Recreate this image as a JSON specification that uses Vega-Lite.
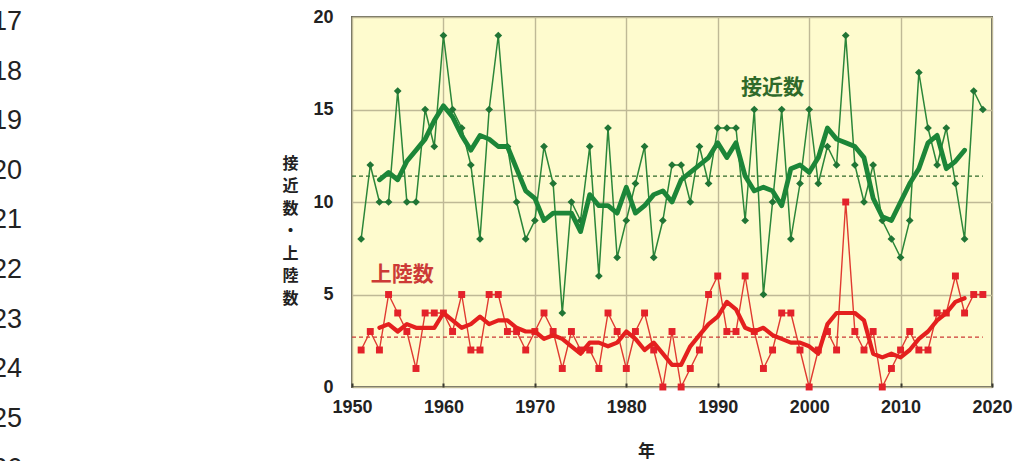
{
  "$schema": "https://vega.github.io/schema/vega-lite/v6.json",
  "width": 640,
  "height": 370,
  "autosize": {"type": "none"},
  "padding": {"left": 352, "top": 17, "right": 26, "bottom": 74},
  "background": "white",
  "config": {
    "view": {"fill": "#FEFBCE", "stroke": "#6B6B5C", "strokeWidth": 2},
    "axis": {
      "labelFont": "Liberation Sans",
      "labelFontWeight": "bold",
      "labelFontSize": 18,
      "labelColor": "#222222",
      "titleFont": "Noto Sans CJK JP",
      "titleFontWeight": "bold",
      "titleColor": "#222222",
      "gridColor": "#BFB996",
      "gridWidth": 1.4,
      "gridOpacity": 1,
      "domain": false
    }
  },
  "datasets": {
    "typhoons": [
      {"year": 1951, "approach": 8, "landing": 2},
      {"year": 1952, "approach": 12, "landing": 3},
      {"year": 1953, "approach": 10, "landing": 2},
      {"year": 1954, "approach": 10, "landing": 5},
      {"year": 1955, "approach": 16, "landing": 4},
      {"year": 1956, "approach": 10, "landing": 3},
      {"year": 1957, "approach": 10, "landing": 1},
      {"year": 1958, "approach": 15, "landing": 4},
      {"year": 1959, "approach": 13, "landing": 4},
      {"year": 1960, "approach": 19, "landing": 4},
      {"year": 1961, "approach": 15, "landing": 3},
      {"year": 1962, "approach": 14, "landing": 5},
      {"year": 1963, "approach": 12, "landing": 2},
      {"year": 1964, "approach": 8, "landing": 2},
      {"year": 1965, "approach": 15, "landing": 5},
      {"year": 1966, "approach": 19, "landing": 5},
      {"year": 1967, "approach": 13, "landing": 3},
      {"year": 1968, "approach": 10, "landing": 3},
      {"year": 1969, "approach": 8, "landing": 2},
      {"year": 1970, "approach": 9, "landing": 3},
      {"year": 1971, "approach": 13, "landing": 4},
      {"year": 1972, "approach": 11, "landing": 3},
      {"year": 1973, "approach": 4, "landing": 1},
      {"year": 1974, "approach": 10, "landing": 3},
      {"year": 1975, "approach": 9, "landing": 2},
      {"year": 1976, "approach": 13, "landing": 2},
      {"year": 1977, "approach": 6, "landing": 1},
      {"year": 1978, "approach": 14, "landing": 4},
      {"year": 1979, "approach": 7, "landing": 3},
      {"year": 1980, "approach": 9, "landing": 1},
      {"year": 1981, "approach": 11, "landing": 3},
      {"year": 1982, "approach": 13, "landing": 4},
      {"year": 1983, "approach": 7, "landing": 2},
      {"year": 1984, "approach": 9, "landing": 0},
      {"year": 1985, "approach": 12, "landing": 3},
      {"year": 1986, "approach": 12, "landing": 0},
      {"year": 1987, "approach": 10, "landing": 1},
      {"year": 1988, "approach": 13, "landing": 2},
      {"year": 1989, "approach": 11, "landing": 5},
      {"year": 1990, "approach": 14, "landing": 6},
      {"year": 1991, "approach": 14, "landing": 3},
      {"year": 1992, "approach": 14, "landing": 3},
      {"year": 1993, "approach": 9, "landing": 6},
      {"year": 1994, "approach": 15, "landing": 3},
      {"year": 1995, "approach": 5, "landing": 1},
      {"year": 1996, "approach": 10, "landing": 2},
      {"year": 1997, "approach": 15, "landing": 4},
      {"year": 1998, "approach": 8, "landing": 4},
      {"year": 1999, "approach": 11, "landing": 2},
      {"year": 2000, "approach": 15, "landing": 0},
      {"year": 2001, "approach": 11, "landing": 2},
      {"year": 2002, "approach": 13, "landing": 3},
      {"year": 2003, "approach": 12, "landing": 2},
      {"year": 2004, "approach": 19, "landing": 10},
      {"year": 2005, "approach": 12, "landing": 3},
      {"year": 2006, "approach": 10, "landing": 2},
      {"year": 2007, "approach": 12, "landing": 3},
      {"year": 2008, "approach": 9, "landing": 0},
      {"year": 2009, "approach": 8, "landing": 1},
      {"year": 2010, "approach": 7, "landing": 2},
      {"year": 2011, "approach": 9, "landing": 3},
      {"year": 2012, "approach": 17, "landing": 2},
      {"year": 2013, "approach": 14, "landing": 2},
      {"year": 2014, "approach": 12, "landing": 4},
      {"year": 2015, "approach": 14, "landing": 4},
      {"year": 2016, "approach": 11, "landing": 6},
      {"year": 2017, "approach": 8, "landing": 4},
      {"year": 2018, "approach": 16, "landing": 5},
      {"year": 2019, "approach": 15, "landing": 5}
    ],
    "normals": [
      {"series": "接近数", "mean": 11.4, "from": 1950, "to": 2019},
      {"series": "上陸数", "mean": 2.7, "from": 1950, "to": 2019}
    ],
    "tags": [
      {"series": "接近数", "year": 1996, "value": 16.15},
      {"series": "上陸数", "year": 1955.5, "value": 6.05}
    ],
    "gutter": [
      {"line": 17}, {"line": 18}, {"line": 19}, {"line": 20}, {"line": 21},
      {"line": 22}, {"line": 23}, {"line": 24}, {"line": 25}, {"line": 26}
    ]
  },
  "data": {"name": "typhoons"},
  "layer": [
    {
      "layer": [
        {
          "data": {"name": "normals"},
          "mark": {"type": "rule", "strokeWidth": 1.2, "strokeDash": [4, 3]},
          "encoding": {
            "x": {
              "field": "from",
              "type": "quantitative",
              "scale": {"domain": [1950, 2020], "nice": false, "zero": false},
              "axis": {
                "title": "年",
                "titleFontSize": 17,
                "titleX": 294,
                "titleY": 64,
                "titleBaseline": "middle",
                "titleAlign": "center",
                "values": [1950, 1960, 1970, 1980, 1990, 2000, 2010, 2020],
                "format": "d",
                "tickSize": -4,
                "tickWidth": 2,
                "tickColor": "#3A3A30",
                "labelPadding": 15,
                "labelFlush": false,
                "labelOverlap": false
              }
            },
            "x2": {"field": "to"},
            "y": {
              "field": "mean",
              "type": "quantitative",
              "scale": {"domain": [0, 20], "nice": false},
              "axis": {
                "title": ["接", "近", "数", "・", "上", "陸", "数"],
                "titleFontSize": 16,
                "titleAngle": 0,
                "titleLineHeight": 22.5,
                "titleX": -62,
                "titleY": 146,
                "titleAlign": "center",
                "titleBaseline": "middle",
                "values": [0, 5, 10, 15, 20],
                "tickSize": 0,
                "labelPadding": 19,
                "labelFlush": false
              }
            },
            "color": {
              "field": "series",
              "type": "nominal",
              "scale": {"domain": ["接近数", "上陸数"], "range": ["#2F6A2A", "#CC3A36"]},
              "legend": null
            }
          }
        },
        {
          "mark": {
            "type": "line",
            "color": "#2B8639",
            "strokeWidth": 1.5,
            "point": {"shape": "diamond", "filled": true, "size": 60, "color": "#217535", "opacity": 1}
          },
          "encoding": {
            "x": {"field": "year", "type": "quantitative"},
            "y": {"field": "approach", "type": "quantitative"}
          }
        },
        {
          "transform": [
            {"window": [{"op": "mean", "field": "approach", "as": "approach_ma"}, {"op": "count", "as": "n"}], "frame": [-2, 2], "sort": [{"field": "year"}]},
            {"filter": "datum.n === 5"}
          ],
          "mark": {"type": "line", "color": "#1C8638", "strokeWidth": 4.8, "strokeJoin": "round", "strokeCap": "round"},
          "encoding": {
            "x": {"field": "year", "type": "quantitative"},
            "y": {"field": "approach_ma", "type": "quantitative"}
          }
        },
        {
          "mark": {
            "type": "line",
            "color": "#E03A30",
            "strokeWidth": 1.4,
            "point": {"shape": "square", "filled": true, "size": 48, "color": "#E3222A", "opacity": 1}
          },
          "encoding": {
            "x": {"field": "year", "type": "quantitative"},
            "y": {"field": "landing", "type": "quantitative"}
          }
        },
        {
          "transform": [
            {"window": [{"op": "mean", "field": "landing", "as": "landing_ma"}, {"op": "count", "as": "n"}], "frame": [-2, 2], "sort": [{"field": "year"}]},
            {"filter": "datum.n === 5"}
          ],
          "mark": {"type": "line", "color": "#E4201E", "strokeWidth": 4.2, "strokeJoin": "round", "strokeCap": "round"},
          "encoding": {
            "x": {"field": "year", "type": "quantitative"},
            "y": {"field": "landing_ma", "type": "quantitative"}
          }
        },
        {
          "data": {"name": "tags"},
          "mark": {"type": "text", "font": "Noto Sans CJK JP", "fontWeight": "bold", "fontSize": 21, "align": "center", "baseline": "middle"},
          "encoding": {
            "x": {"field": "year", "type": "quantitative"},
            "y": {"field": "value", "type": "quantitative"},
            "text": {"field": "series"},
            "color": {
              "field": "series",
              "type": "nominal",
              "scale": {"domain": ["接近数", "上陸数"], "range": ["#2E8B3A", "#E2342E"]},
              "legend": null
            }
          }
        }
      ]
    },
    {
      "data": {"name": "gutter"},
      "mark": {"type": "text", "font": "Liberation Sans", "fontSize": 27, "align": "right", "baseline": "middle", "color": "#222222"},
      "encoding": {
        "x": {"datum": 0, "type": "quantitative", "scale": {"domain": [1, 2.9394], "nice": false, "zero": false}, "axis": null},
        "y": {"field": "line", "type": "quantitative", "scale": {"domain": [16.9, 24.356], "nice": false, "zero": false, "reverse": true}, "axis": null},
        "text": {"field": "line"}
      }
    }
  ],
  "resolve": {"scale": {"x": "independent", "y": "independent", "color": "independent"}}
}
